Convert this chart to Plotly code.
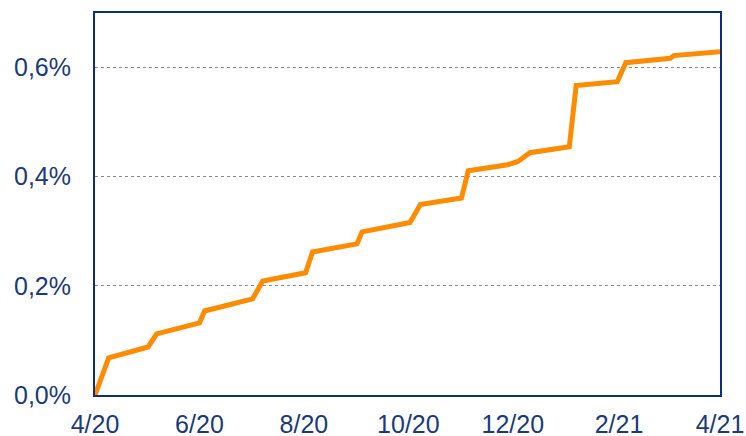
import plotly.graph_objects as go

dates = [
    "2020-04-01", "2020-04-09", "2020-05-02", "2020-05-07", "2020-06-01",
    "2020-06-04", "2020-07-02", "2020-07-08", "2020-08-02", "2020-08-06",
    "2020-09-01", "2020-09-04", "2020-10-02", "2020-10-08", "2020-11-01",
    "2020-11-05", "2020-11-28", "2020-12-04", "2020-12-11", "2021-01-03",
    "2021-01-07", "2021-01-31", "2021-02-05", "2021-03-03", "2021-03-05",
    "2021-04-01",
]
values = [
    0.000, 0.068, 0.088, 0.112, 0.132,
    0.154, 0.176, 0.209, 0.224, 0.262,
    0.277, 0.299, 0.316, 0.349, 0.361,
    0.411, 0.422, 0.428, 0.444, 0.455,
    0.567, 0.574, 0.609, 0.617, 0.622,
    0.629,
]
x_tickvals = ["2020-04-01", "2020-06-01", "2020-08-01", "2020-10-01",
              "2020-12-01", "2021-02-01", "2021-04-01"]
x_ticktext = ["4/20", "6/20", "8/20", "10/20", "12/20", "2/21", "4/21"]
y_tickvals = [0.0, 0.2, 0.4, 0.6]
y_ticktext = ["0,0%", "0,2%", "0,4%", "0,6%"]

frame = "#0e2d80"
textc = "#1b3a78"

fig = go.Figure()
fig.add_trace(go.Scatter(
    x=dates, y=values, mode="lines",
    line=dict(color="#ff8c00", width=5),
    hoverinfo="skip",
))

fig.update_layout(
    width=746, height=436,
    margin=dict(l=95, r=26, t=13, b=41, autoexpand=False),
    paper_bgcolor="white", plot_bgcolor="white",
    showlegend=False,
    font=dict(family="Liberation Sans, Arial, sans-serif", size=25, color=textc),
)
fig.update_xaxes(
    type="date",
    range=["2020-04-01", "2021-04-01"],
    tickvals=x_tickvals, ticktext=x_ticktext,
    showgrid=False, zeroline=False,
    showline=True, mirror=True, linecolor=frame, linewidth=2,
    ticks="", ticklabelstandoff=6, automargin=False,
    tickfont=dict(size=25, color=textc),
)
fig.update_yaxes(
    range=[0, 0.7],
    tickvals=y_tickvals, ticktext=y_ticktext,
    showgrid=True, gridcolor="#8a8a8a", griddash="dot", gridwidth=1,
    zeroline=False,
    showline=True, mirror=True, linecolor=frame, linewidth=2,
    ticks="", ticklabelstandoff=17, automargin=False,
    tickfont=dict(size=25, color=textc),
)

fig.write_html("out.html", config={"displayModeBar": False},
               post_script="document.body.style.margin='0';")
